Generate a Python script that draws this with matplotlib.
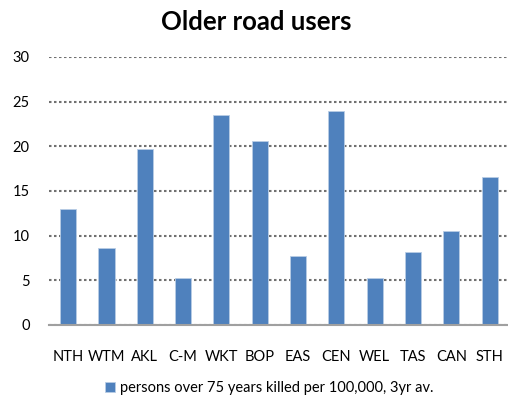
import matplotlib.pyplot as plt

# -----------------------------------
# Data
# -----------------------------------

regions = ["NTH", "WTM", "AKL", "C-M", "WKT", "BOP",
           "EAS", "CEN", "WEL", "TAS", "CAN", "STH"]

killed_rate = [13.0, 8.6, 19.7, 5.3, 23.5, 20.6,
               7.7, 23.9, 5.3, 8.2, 10.5, 16.6]

y_ticks = [0, 5, 10, 15, 20, 25, 30]

series_label = "persons over 75 years killed per 100,000, 3yr av."

# -----------------------------------
# Plot
# -----------------------------------

plt.rcParams['font.family'] = ['Lato', 'DejaVu Sans']

fig = plt.figure(figsize=(5.08, 4.0), dpi=100)
ax = fig.add_axes([0.0965, 0.1875, 0.905, 0.67])

x = range(len(regions))
ax.bar(x, killed_rate, width=0.42, color="#4F81BD",
       edgecolor="#B9CDE5", linewidth=0.6, label=series_label, zorder=3)

ax.set_xlim(-0.5, len(regions) - 0.5)
ax.set_ylim(0, 30)
ax.set_yticks(y_ticks)
ax.set_xticks(list(x))
ax.set_xticklabels(regions)
ax.tick_params(axis="both", length=0, labelsize=10.5, colors="black")
ax.tick_params(axis="x", pad=18)
ax.tick_params(axis="y", pad=14)

ax.yaxis.grid(True, linestyle=(0, (1.2, 1.2)), color="#707070", linewidth=1.5)
ax.set_axisbelow(True)

for side in ["top", "right", "left"]:
    ax.spines[side].set_visible(False)
ax.spines["bottom"].set_color("#A0A0A0")
ax.spines["bottom"].set_linewidth(1.5)
ax.spines["bottom"].set_zorder(4)

fig.text(0.505, 0.945, "Older road users", ha="center", va="center",
         fontsize=18.5, fontweight="bold")

fig.legend(loc="center", bbox_to_anchor=(0.53, 0.03), frameon=False,
           fontsize=10.5, handlelength=0.7, handleheight=0.7,
           handletextpad=0.3)

plt.savefig("out.png", dpi=100)
